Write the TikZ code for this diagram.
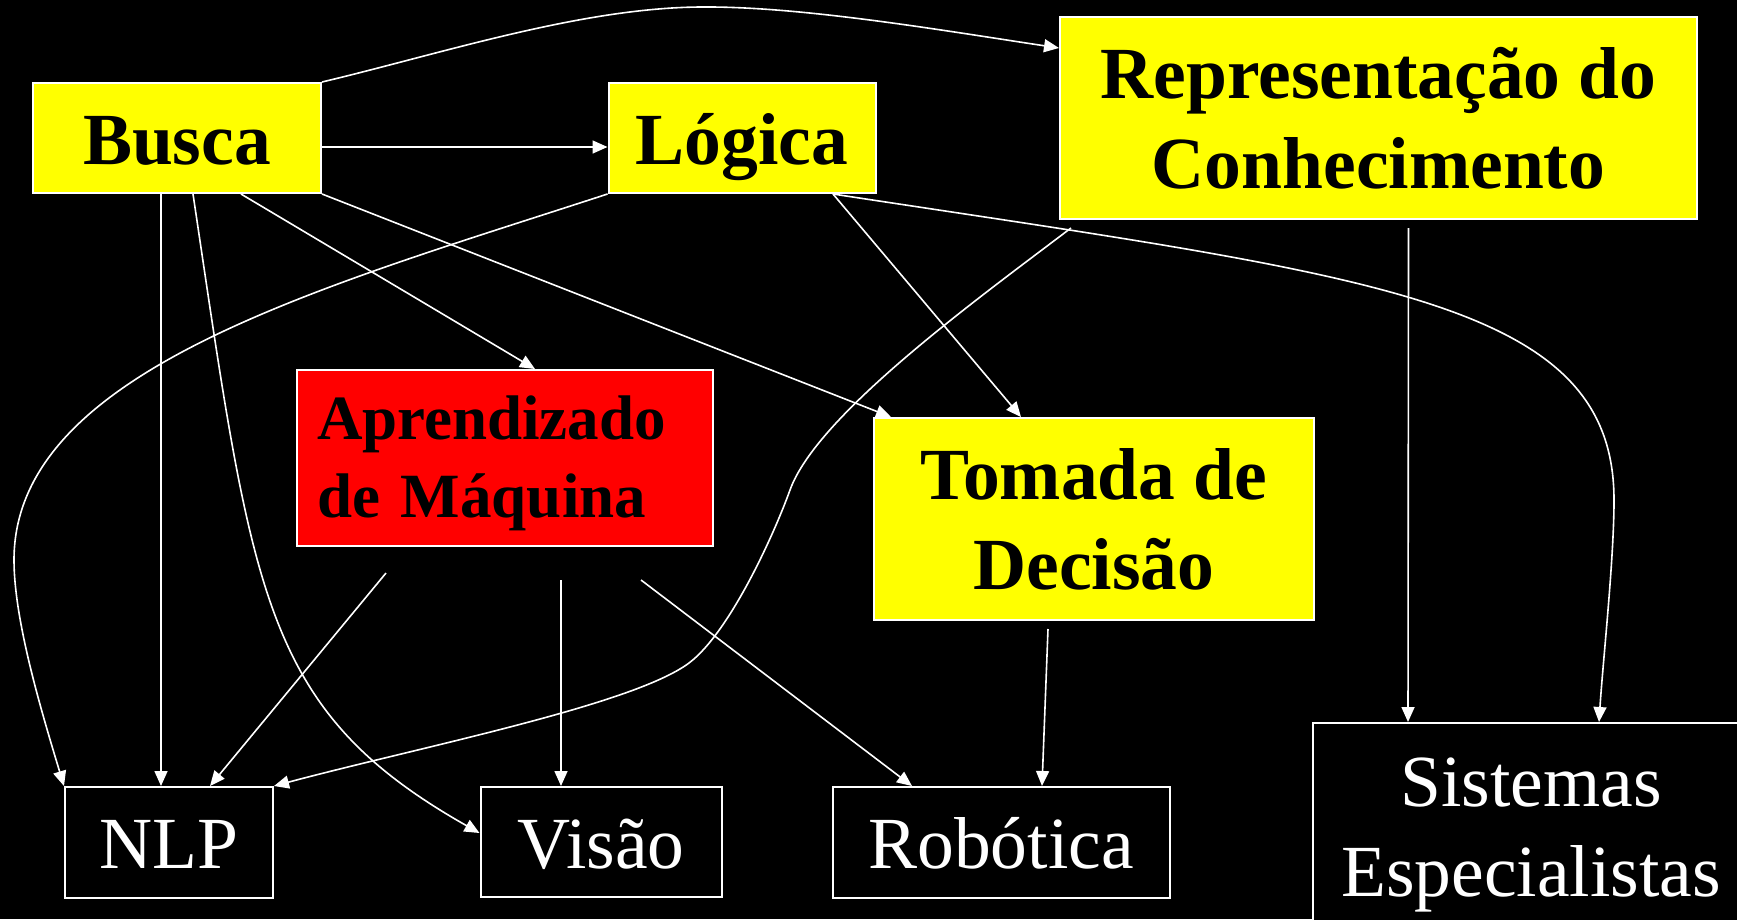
\documentclass[tikz,border=0pt]{standalone}
\usepackage{fontspec}
\setmainfont{Liberation Serif}
\usetikzlibrary{arrows.meta}
\definecolor{yel}{RGB}{255,255,0}
\definecolor{rd}{RGB}{255,0,0}
\tikzset{
  box/.style={draw=white, line width=2pt, inner sep=0pt, align=center},
  topic/.style={box, fill=yel, text=black, font=\bfseries\fontsize{73.5}{90}\selectfont},
  appl/.style={box, fill=black, text=white, font=\fontsize{73.5}{90}\selectfont},
  oneline/.style={text height=52pt, text depth=0pt},
  arr/.style={draw=white, line width=1.6pt, -{Triangle[length=15pt,width=13pt]}}
}
\begin{document}
\begin{tikzpicture}[x=1pt,y=-1pt]
\useasboundingbox (0,0) rectangle (1737,919);
\fill[black] (0,0) rectangle (1737,919);
\clip (0,0) rectangle (1737,919);

\node[topic, oneline, minimum width=288pt, minimum height=110pt] (busca) at (177,138) {Busca};
\node[topic, oneline, minimum width=267pt, minimum height=110pt] (logica) at (742,138) {Lógica};
\node[topic, minimum width=637pt, minimum height=202pt] (rep) at (1378.5,118) {Representação do\\Conhecimento};
\node[box, fill=rd, text=black, font=\bfseries\fontsize{63}{78}\selectfont, minimum width=416pt, minimum height=176pt, text width=376pt, align=left] (aprend) at (505,458) {\rule{0pt}{55pt}Aprendizado\\de Máquina};
\node[topic, minimum width=440pt, minimum height=202pt] (tomada) at (1094,519) {Tomada de\\Decisão};
\node[appl, oneline, minimum width=208pt, minimum height=111pt] (nlp) at (169,842.5) {NLP};
\node[appl, oneline, minimum width=241pt, minimum height=110pt] (visao) at (601,842) {Visão};
\node[appl, oneline, minimum width=337pt, minimum height=111pt] (robotica) at (1001,842.5) {Robótica};
\node[appl, minimum width=436pt, minimum height=224pt] (sistemas) at (1531,835) {Sistemas\\Especialistas};

% Busca
\draw[arr] (busca.north east) .. controls (440,54) and (580,8) .. (700,7)
  .. controls (800,6) and (940,30) .. ([yshift=-32pt]rep.north west);
\draw[arr] ([yshift=-9pt]busca.east) -- ([yshift=-9pt]logica.west);
\draw[arr] ([xshift=-16pt]busca.south) -- ([xshift=-8pt]nlp.north);
\draw[arr] ([xshift=16pt]busca.south) .. controls (253,595) and (262,710) .. ([yshift=9pt]visao.west);
\draw[arr] ([xshift=64pt]busca.south) -- ([xshift=30pt]aprend.north);
\draw[arr] (busca.south east) -- ([xshift=18pt]tomada.north west);
% Logica
\draw[arr] (logica.south west) .. controls (323,287) and (14,370) .. (14,560)
  .. controls (14,620) and (41,710) .. (nlp.north west);
\draw[arr] ([xshift=91pt]logica.south) -- ([xshift=-73pt]tomada.north);
\draw[arr] ([xshift=91pt]logica.south) .. controls (1377,277) and (1614,300) .. (1614,500)
  .. controls (1614,560) and (1603,660) .. ([xshift=68pt]sistemas.north);
% Representacao
\draw[arr] ([xshift=12pt,yshift=-8pt]rep.south west) .. controls (976,300) and (817,415) .. (790,490)
  .. controls (773,537) and (729,633) .. (689,663)
  .. controls (633,705) and (420,747) .. (nlp.north east);
\draw[arr] ([xshift=30pt,yshift=-8pt]rep.south) -- ([xshift=96pt]sistemas.north west);
% Aprendizado
\draw[arr] ([xshift=-119pt,yshift=-26pt]aprend.south) -- ([xshift=41pt]nlp.north);
\draw[arr] ([xshift=56pt,yshift=-33pt]aprend.south) -- ([xshift=-40pt]visao.north);
\draw[arr] ([xshift=136pt,yshift=-33pt]aprend.south) -- ([xshift=-89pt]robotica.north);
% Tomada
\draw[arr] ([xshift=-46pt,yshift=-8pt]tomada.south) -- ([xshift=41pt]robotica.north);
\end{tikzpicture}
\end{document}
